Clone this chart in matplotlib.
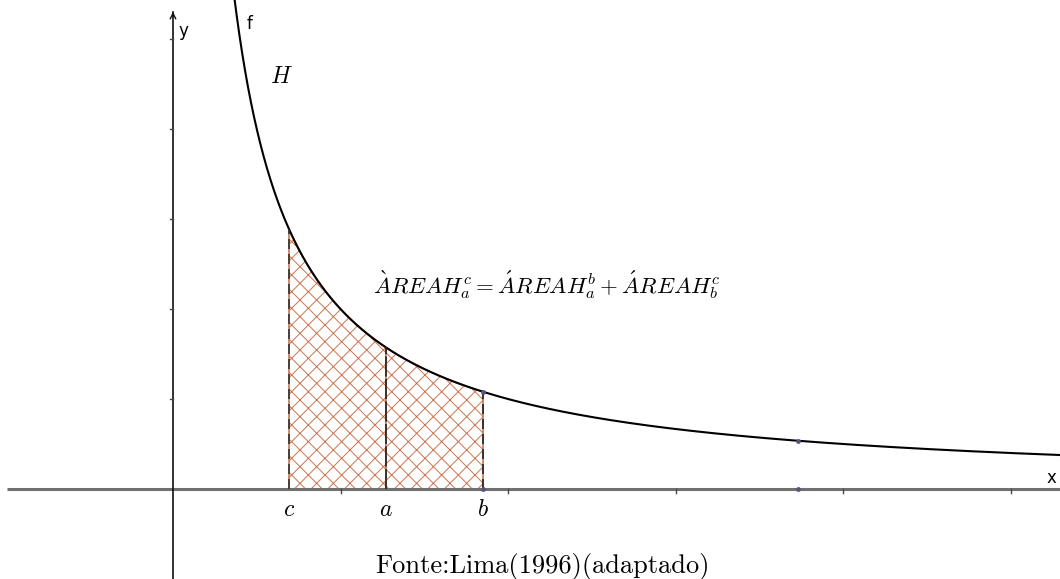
import numpy as np
import matplotlib
matplotlib.use("Agg")
import matplotlib.pyplot as plt

# ---- data ----
k = 2.0                      # f(x) = k / x
c_val, a_val, b_val = 0.6925, 1.2716, 1.851
extra_point_x = 3.731
x_ticks = [1, 2, 3, 4, 5]
y_ticks = [1, 2, 3, 4, 5]
point_labels = ["c", "a", "b"]
equation = r"$\grave{A}REAH_a^c = \acute{A}REAH_a^b + \acute{A}REAH_b^c$"
source = "Fonte:Lima(1996)(adaptado)"

plt.rcParams["mathtext.fontset"] = "cm"
plt.rcParams["hatch.linewidth"] = 0.7

fig = plt.figure(figsize=(10.6, 5.79), dpi=100)
ax = fig.add_axes([0, 0, 1, 1])
xmin, xmax = -173 / 167.5, 887 / 167.5
ymin, ymax = -90 / 90, 489 / 90
ax.set_xlim(xmin, xmax)
ax.set_ylim(ymin, ymax)
ax.axis("off")

f = lambda x: k / x
hatch_col = "#c97550"

# hatched areas
for x0, x1 in [(c_val, a_val), (a_val, b_val)]:
    xs = np.linspace(x0, x1, 200)
    ax.fill_between(xs, 0, f(xs), facecolor="white", edgecolor=hatch_col,
                    hatch="xx", linewidth=1.2, zorder=1)

# axes lines
ax.plot([-166 / 167.5, xmax], [0, 0], color="#707070", lw=2.2, zorder=2, solid_capstyle="butt")
ax.plot([0, 0], [ymin, 477 / 90], color="#111111", lw=1.2, zorder=3)
ax.annotate("", xy=(0, 480 / 90), xytext=(0, 470 / 90),
            arrowprops=dict(arrowstyle="->", color="#111111", lw=1.0, mutation_scale=10))

# ticks
tx = 3.5 / 167.5
ty = 3.5 / 90
for t in x_ticks:
    ax.plot([t, t], [0, -ty], color="#444444", lw=1.0, zorder=3)
for t in y_ticks:
    ax.plot([0, -tx], [t, t], color="#444444", lw=1.0, zorder=3)

# curve
xs = np.linspace(0.36, xmax, 2000)
ax.plot(xs, f(xs), color="black", lw=1.5, zorder=4)

# vertical boundaries
ax.plot([c_val, c_val], [0, f(c_val)], color="#333333", lw=1.2, ls=(0, (6, 3)), zorder=4)
ax.plot([a_val, a_val], [0, f(a_val)], color="#222222", lw=1.2, ls=(0, (12, 1.5)), zorder=4)
ax.plot([b_val, b_val], [0, f(b_val)], color="#222222", lw=1.2, ls=(0, (6, 3)), zorder=4)

# points
pts_x = [b_val, b_val, extra_point_x, extra_point_x]
pts_y = [0, f(b_val), f(extra_point_x), 0]
ax.scatter(pts_x, pts_y, s=6, color="#555577", zorder=5)

# labels under axis
for lab, xv in zip(point_labels, [c_val, a_val, b_val]):
    ax.text(xv, -20 / 90, "$" + lab + "$", ha="center", va="center", fontsize=17, zorder=6)

ax.text(373 / 1060, 1 - 285 / 579, equation, transform=ax.transAxes,
        ha="left", va="center", fontsize=16.5)
ax.text(542 / 1060, 1 - 567 / 579, source, transform=ax.transAxes,
        ha="center", va="center", fontsize=19, family="cmr10")
ax.text(281 / 1060, 1 - 76 / 579, "$H$", transform=ax.transAxes,
        ha="center", va="center", fontsize=17)

ax.text(1051 / 1060, 1 - 478 / 579, "x", transform=ax.transAxes,
        ha="center", va="center", fontsize=12)
ax.text(183 / 1060, 1 - 31 / 579, "y", transform=ax.transAxes,
        ha="center", va="center", fontsize=12)
ax.text(250 / 1060, 1 - 24 / 579, "f", transform=ax.transAxes,
        ha="center", va="center", fontsize=12)

fig.savefig("out.png", dpi=100)
